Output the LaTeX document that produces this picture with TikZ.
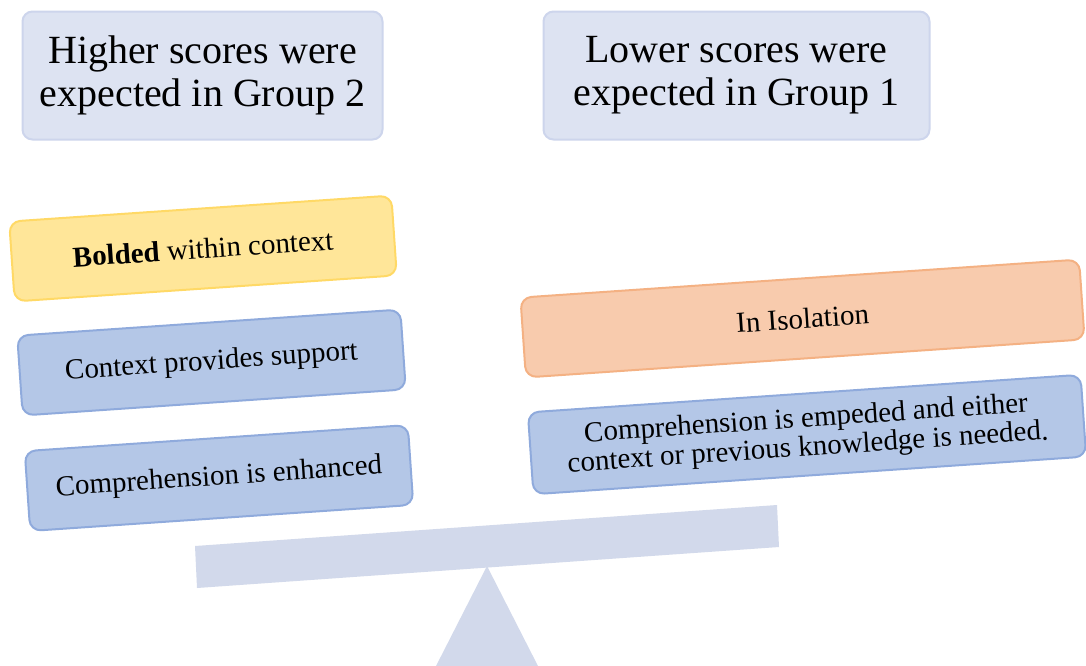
\documentclass[tikz,border=0pt]{standalone}
\usepackage{fontspec}
\setmainfont{Liberation Serif}
\definecolor{headfill}{HTML}{DDE3F2}
\definecolor{headline}{HTML}{CDD5EC}
\definecolor{bluefill}{HTML}{B4C7E7}
\definecolor{blueline}{HTML}{8FAADC}
\definecolor{yelfill}{HTML}{FFE699}
\definecolor{yelline}{HTML}{FFD966}
\definecolor{orgfill}{HTML}{F8CBAD}
\definecolor{orgline}{HTML}{F4B183}
\definecolor{beam}{HTML}{D2D9EB}
\tikzset{
  headbox/.style={draw=headline, fill=headfill, line width=2pt, rounded corners=10pt,
    minimum width=360pt, minimum height=128pt, align=center,
    font=\fontsize{40}{43}\selectfont},
  tiltbox/.style={line width=2pt, rounded corners=11pt, rotate=3.9,
    minimum height=80pt, align=center, font=\fontsize{29}{29}\selectfont},
  bluebox/.style={tiltbox, draw=blueline, fill=bluefill},
  yelbox/.style={tiltbox, draw=yelline, fill=yelfill},
  orgbox/.style={tiltbox, draw=orgline, fill=orgfill},
}
\begin{document}
\begin{tikzpicture}[x=1pt, y=-1pt]
\useasboundingbox (0,0) rectangle (1086,665);
\fill[white] (0,0) rectangle (1086,665);

% headings
\node[headbox] (hi) at (202.5,75.5) {Higher scores were\\expected in Group 2};
\node[headbox, minimum width=386pt] (lo) at (736.5,75.5) {Lower scores were\\expected in Group 1};

% left pan
\node[yelbox, minimum width=383pt] (bold) at (203,248.5) {\textbf{Bolded} within context};
\node[bluebox, minimum width=384pt] (ctx) at (211.5,362.5) {Context provides support};
\node[bluebox, minimum width=384pt] (enh) at (219,478) {Comprehension is enhanced};

% right pan
\node[orgbox, minimum width=560pt] (iso) at (802.5,318.5) {In Isolation};
\node[bluebox, minimum width=554pt, minimum height=82pt] (imp) at (807,434.5)
  {Comprehension is empeded and either\\context or previous knowledge is needed.};

% balance
\fill[beam] (195,546) -- (777,505) -- (779,547) -- (197,588) -- cycle;
\fill[beam] (487,566) -- (539,668) -- (435,668) -- cycle;
\end{tikzpicture}
\end{document}
